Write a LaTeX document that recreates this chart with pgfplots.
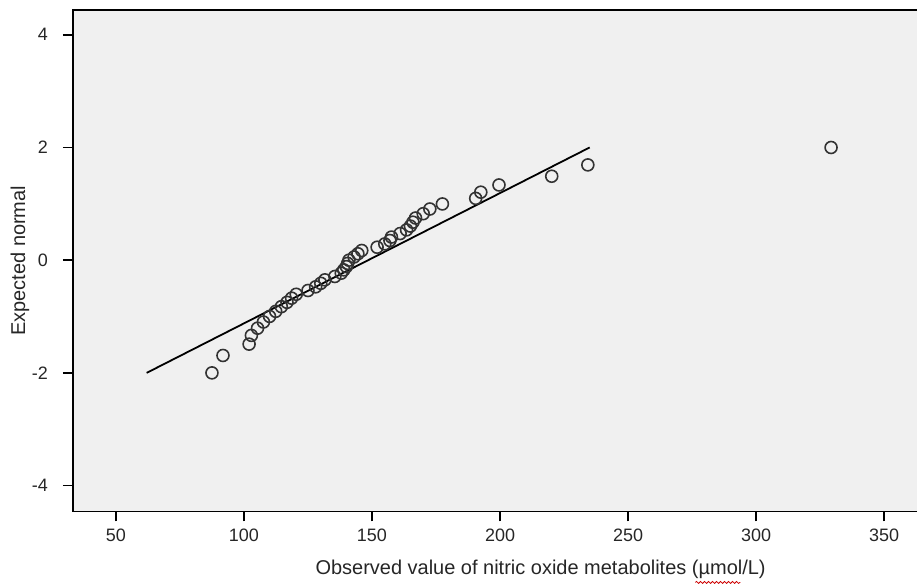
\documentclass[border=0pt]{standalone}
\usepackage{fontspec}
\setmainfont{Liberation Sans}
\usepackage{pgfplots}
\pgfplotsset{compat=1.18}
\usetikzlibrary{decorations.pathmorphing}
\definecolor{bgc}{HTML}{F0F0F0}
\begin{document}
\begin{tikzpicture}
\begin{axis}[
  at={(0,0)}, anchor=south west,
  scale only axis,
  width=422.5pt, height=251pt,
  xmin=33.2, xmax=362.9,
  ymin=-4.46, ymax=4.44,
  xtick={50,100,...,350},
  ytick={-4,-2,0,2,4},
  tick align=outside,
  major tick length=5pt,
  tick style={black, line width=0.8pt},
  xtick pos=bottom, ytick pos=left,
  axis line style={draw=none},
  axis background/.style={fill=bgc},
  /pgf/number format/assume math mode=true,
  ticklabel style={font=\fontsize{9}{10}\selectfont, text=black!85},
  xticklabel style={yshift=0pt},
  yticklabel style={xshift=-4pt},
  xlabel={Observed value of nitric oxide metabolites (µmol/L)},
  ylabel={Expected normal},
  label style={font=\fontsize{10}{12}\selectfont, text=black!85},
  xlabel style={at={(axis description cs:0.554,0)}, anchor=center, yshift=-29pt},
  ylabel style={at={(axis description cs:0,0.5)}, anchor=center, yshift=26.5pt},
  clip=false,
]
\draw[black, line width=0.9pt] (rel axis cs:1,0) -- (rel axis cs:0,0) -- (rel axis cs:0,1) -- (rel axis cs:1,1);
\addplot[black, line width=0.9pt] coordinates {(62,-2) (235,2)};
\addplot[only marks, mark=o, mark size=3pt, mark options={black!80, line width=0.8pt}] coordinates {
(87.5,-2.000)
(91.8,-1.691)
(102.0,-1.490)
(102.9,-1.335)
(105.3,-1.207)
(107.6,-1.097)
(110.0,-0.998)
(112.4,-0.908)
(114.6,-0.825)
(116.8,-0.748)
(118.6,-0.674)
(120.4,-0.605)
(125.0,-0.538)
(128.0,-0.473)
(130.0,-0.410)
(131.6,-0.349)
(135.5,-0.289)
(138.0,-0.230)
(139.0,-0.172)
(140.0,-0.114)
(140.5,-0.057)
(141.0,0.000)
(143.0,0.057)
(144.5,0.114)
(146.0,0.172)
(152.0,0.230)
(155.0,0.289)
(157.0,0.349)
(157.6,0.410)
(161.0,0.473)
(163.5,0.538)
(165.0,0.605)
(166.0,0.674)
(167.0,0.748)
(170.0,0.825)
(172.6,0.908)
(177.5,0.998)
(190.5,1.097)
(192.5,1.207)
(199.6,1.335)
(220.2,1.490)
(234.3,1.691)
(329.3,2.000)
};
\end{axis}
\draw[red!80!black, line width=0.4pt, decorate, decoration={snake, amplitude=0.5pt, segment length=2pt}] (311.5pt,-35.5pt) -- (334pt,-35.5pt);
\path[use as bounding box] (-36.5pt,-38pt) rectangle (422.5pt,256pt);
\end{tikzpicture}
\end{document}
